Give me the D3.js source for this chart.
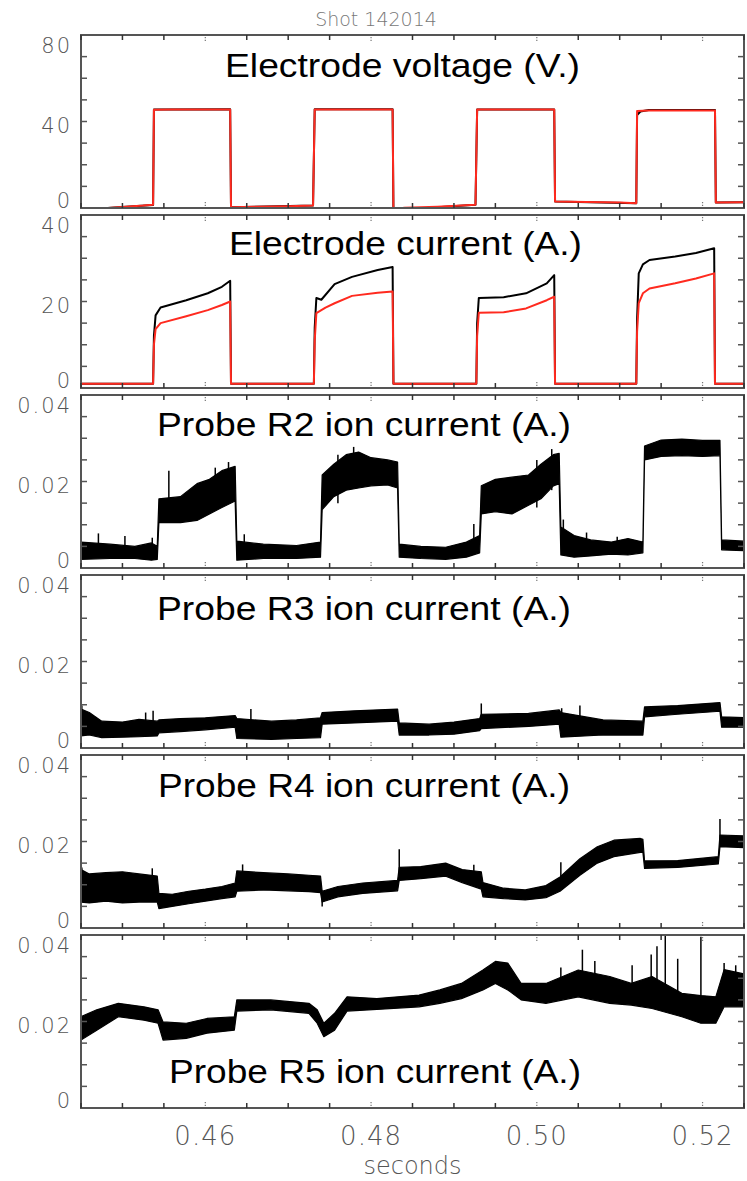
<!DOCTYPE html>
<html>
<head>
<meta charset="utf-8">
<script src="https://cdn.jsdelivr.net/npm/d3@7"></script>
<style>
  body { margin: 0; background: #fff; }
  text { font-family: "DejaVu Sans", sans-serif; }
</style>
</head>
<body>
<svg id="chart"></svg>
<script>

// DATA SEGMENT (time in seconds, values in V / A)

const xTickValues = [0.46, 0.48, 0.50, 0.52];
const xTickLabels = ["0.46", "0.48", "0.50", "0.52"];
const yLabelsVoltage = ["0", "40", "80"];
const yLabelsCurrent = ["0", "20", "40"];
const yLabelsProbe = ["0", "0.02", "0.04"];

const panelTitles = [
    "Electrode voltage (V.)",
    "Electrode current (A.)",
    "Probe R2 ion current (A.)",
    "Probe R3 ion current (A.)",
    "Probe R4 ion current (A.)",
    "Probe R5 ion current (A.)"
];

// [t, volts]
const voltageRed = [
    [0.4450, -0.8], [0.4470, -0.3], [0.4500, 0.5], [0.4525, 1.1], [0.4537, 1.5],
    [0.4538, 45.4], [0.4560, 45.6], [0.4630, 45.6], [0.4631, 0.3], [0.4660, 0.6],
    [0.4700, 0.8], [0.4730, 1.2], [0.4732, 45.6], [0.4826, 45.6], [0.4827, -1.0],
    [0.4840, 0.1], [0.4880, 0.6], [0.4926, 1.5], [0.4928, 45.5], [0.5021, 45.5],
    [0.5022, 3.0], [0.5060, 2.8], [0.5100, 2.5], [0.5120, 2.2], [0.5121, 44.8],
    [0.5135, 45.1], [0.5215, 45.1], [0.5216, 2.6], [0.5250, 2.7]
];
const voltageBlack = [
    [0.4450, -0.8], [0.4537, 1.4], [0.4538, 45.6], [0.4630, 45.7], [0.4631, 0.3],
    [0.4730, 1.2], [0.4732, 45.7], [0.4826, 45.7], [0.4827, -1.0], [0.4926, 1.5],
    [0.4928, 45.6], [0.5021, 45.6], [0.5022, 3.0], [0.5120, 2.2], [0.5121, 43.0],
    [0.5125, 44.6], [0.5135, 45.3], [0.5215, 45.3], [0.5216, 2.6], [0.5250, 2.7]
];

// [t, amps]
const currentBlack = [
    [0.4450, 1.0], [0.4537, 1.0], [0.4538, 12.0], [0.4540, 16.8], [0.4546, 18.6],
    [0.4577, 20.3], [0.4603, 21.9], [0.4620, 23.4], [0.4630, 24.8], [0.4631, 1.0],
    [0.4731, 1.0], [0.4732, 14.0], [0.4734, 20.8], [0.4740, 20.4], [0.4756, 24.0],
    [0.4777, 25.7], [0.4808, 27.3], [0.4826, 28.0], [0.4827, 1.0], [0.4927, 1.0],
    [0.4928, 15.0], [0.4930, 20.8], [0.4960, 21.0], [0.4987, 21.9], [0.5012, 24.2],
    [0.5021, 26.1], [0.5022, 1.0], [0.5120, 1.0], [0.5121, 16.0], [0.5123, 26.5],
    [0.5128, 28.6], [0.5136, 29.6], [0.5167, 30.4], [0.5192, 31.2], [0.5214, 32.3],
    [0.5215, 1.0], [0.5250, 1.0]
];
const currentRed = [
    [0.4450, 1.0], [0.4537, 1.0], [0.4538, 10.0], [0.4540, 13.6], [0.4546, 15.0],
    [0.4577, 16.6], [0.4603, 18.0], [0.4620, 19.2], [0.4630, 20.0], [0.4631, 1.0],
    [0.4731, 1.0], [0.4732, 11.0], [0.4734, 17.3], [0.4745, 18.6], [0.4756, 19.6],
    [0.4777, 21.3], [0.4808, 22.0], [0.4826, 22.3], [0.4827, 1.0], [0.4927, 1.0],
    [0.4928, 12.0], [0.4930, 17.4], [0.4960, 17.5], [0.4987, 18.4], [0.5012, 20.3],
    [0.5021, 21.1], [0.5022, 1.0], [0.5120, 1.0], [0.5121, 13.0], [0.5123, 19.6],
    [0.5128, 21.9], [0.5136, 23.0], [0.5167, 24.2], [0.5192, 25.3], [0.5214, 26.5],
    [0.5215, 1.0], [0.5250, 1.0]
];

// probe signals: noisy envelope [t, low, high] and isolated spikes [t, low, high], amps
const r2Band = [
    [0.4450, 0.0020, 0.0060], [0.4485, 0.0022, 0.0055], [0.4515, 0.0022, 0.0050],
    [0.4535, 0.0018, 0.0058], [0.4542, 0.0020, 0.0050], [0.4544, 0.0105, 0.0160],
    [0.4570, 0.0105, 0.0165], [0.4590, 0.0110, 0.0195], [0.4605, 0.0125, 0.0205],
    [0.4620, 0.0140, 0.0225], [0.4636, 0.0155, 0.0235], [0.4638, 0.0018, 0.0062],
    [0.4670, 0.0022, 0.0055], [0.4710, 0.0022, 0.0052], [0.4739, 0.0025, 0.0060],
    [0.4741, 0.0135, 0.0215], [0.4755, 0.0165, 0.0240], [0.4770, 0.0180, 0.0262],
    [0.4785, 0.0185, 0.0268], [0.4800, 0.0190, 0.0255], [0.4820, 0.0192, 0.0250],
    [0.4832, 0.0185, 0.0245], [0.4834, 0.0025, 0.0055], [0.4860, 0.0022, 0.0050],
    [0.4890, 0.0020, 0.0048], [0.4915, 0.0025, 0.0060], [0.4931, 0.0035, 0.0075],
    [0.4933, 0.0125, 0.0190], [0.4950, 0.0130, 0.0205], [0.4970, 0.0125, 0.0210],
    [0.4990, 0.0145, 0.0215], [0.5005, 0.0160, 0.0240], [0.5020, 0.0190, 0.0262],
    [0.5027, 0.0195, 0.0265], [0.5029, 0.0030, 0.0095], [0.5045, 0.0025, 0.0075],
    [0.5065, 0.0028, 0.0065], [0.5090, 0.0032, 0.0060], [0.5110, 0.0030, 0.0068],
    [0.5128, 0.0035, 0.0060], [0.5130, 0.0250, 0.0282], [0.5150, 0.0258, 0.0296],
    [0.5175, 0.0260, 0.0298], [0.5200, 0.0258, 0.0295], [0.5221, 0.0260, 0.0295],
    [0.5223, 0.0042, 0.0065], [0.5250, 0.0040, 0.0062]
];
const r2Spikes = [
    [0.4471, 0.0030, 0.0080], [0.4503, 0.0030, 0.0074], [0.4536, 0.0030, 0.0070],
    [0.4556, 0.0120, 0.0225], [0.4612, 0.0140, 0.0232], [0.4628, 0.0150, 0.0245],
    [0.4647, 0.0030, 0.0078], [0.4760, 0.0150, 0.0262], [0.4779, 0.0190, 0.0280],
    [0.4924, 0.0030, 0.0102], [0.5000, 0.0140, 0.0250], [0.5018, 0.0180, 0.0275],
    [0.5032, 0.0030, 0.0112], [0.5060, 0.0030, 0.0082], [0.5097, 0.0030, 0.0072]
];

const r3Band = [
    [0.4450, 0.0028, 0.0090], [0.4460, 0.0030, 0.0082], [0.4475, 0.0024, 0.0062],
    [0.4500, 0.0025, 0.0060], [0.4520, 0.0026, 0.0066], [0.4542, 0.0028, 0.0062],
    [0.4544, 0.0035, 0.0065], [0.4570, 0.0038, 0.0068], [0.4600, 0.0042, 0.0070],
    [0.4636, 0.0048, 0.0075], [0.4638, 0.0022, 0.0068], [0.4680, 0.0020, 0.0062],
    [0.4710, 0.0022, 0.0065], [0.4739, 0.0024, 0.0070], [0.4741, 0.0055, 0.0082],
    [0.4780, 0.0058, 0.0086], [0.4832, 0.0062, 0.0090], [0.4834, 0.0030, 0.0058],
    [0.4870, 0.0030, 0.0055], [0.4900, 0.0032, 0.0060], [0.4931, 0.0040, 0.0068],
    [0.4933, 0.0045, 0.0078], [0.4990, 0.0050, 0.0080], [0.5027, 0.0055, 0.0088],
    [0.5029, 0.0025, 0.0082], [0.5080, 0.0030, 0.0065], [0.5128, 0.0030, 0.0062],
    [0.5130, 0.0072, 0.0095], [0.5170, 0.0078, 0.0098], [0.5221, 0.0085, 0.0105],
    [0.5223, 0.0048, 0.0072], [0.5250, 0.0048, 0.0070]
];
const r3Spikes = [
    [0.4451, 0.0030, 0.0098], [0.4528, 0.0030, 0.0082], [0.4537, 0.0030, 0.0086],
    [0.4655, 0.0030, 0.0090], [0.4933, 0.0050, 0.0103], [0.5052, 0.0030, 0.0098],
    [0.5030, 0.0030, 0.0092]
];

const r4Band = [
    [0.4450, 0.0060, 0.0135], [0.4460, 0.0058, 0.0125], [0.4480, 0.0062, 0.0128],
    [0.4500, 0.0058, 0.0130], [0.4520, 0.0060, 0.0125], [0.4542, 0.0060, 0.0120],
    [0.4544, 0.0045, 0.0080], [0.4560, 0.0050, 0.0078], [0.4580, 0.0056, 0.0085],
    [0.4600, 0.0062, 0.0090], [0.4620, 0.0068, 0.0096], [0.4636, 0.0072, 0.0104],
    [0.4638, 0.0085, 0.0132], [0.4670, 0.0088, 0.0128], [0.4700, 0.0086, 0.0125],
    [0.4725, 0.0084, 0.0122], [0.4739, 0.0082, 0.0120], [0.4741, 0.0060, 0.0085],
    [0.4760, 0.0072, 0.0096], [0.4790, 0.0080, 0.0104], [0.4832, 0.0086, 0.0110],
    [0.4834, 0.0110, 0.0140], [0.4860, 0.0114, 0.0142], [0.4890, 0.0120, 0.0150],
    [0.4910, 0.0105, 0.0135], [0.4933, 0.0090, 0.0130], [0.4935, 0.0072, 0.0105],
    [0.4960, 0.0068, 0.0092], [0.4986, 0.0065, 0.0088], [0.5011, 0.0070, 0.0098],
    [0.5028, 0.0085, 0.0118], [0.5052, 0.0122, 0.0160], [0.5073, 0.0150, 0.0188],
    [0.5093, 0.0165, 0.0203], [0.5125, 0.0175, 0.0207], [0.5128, 0.0175, 0.0205],
    [0.5130, 0.0138, 0.0155], [0.5170, 0.0140, 0.0156], [0.5219, 0.0148, 0.0165],
    [0.5221, 0.0188, 0.0215], [0.5250, 0.0186, 0.0213]
];
const r4Spikes = [
    [0.4451, 0.0080, 0.0140], [0.4536, 0.0080, 0.0138], [0.4645, 0.0100, 0.0147],
    [0.4741, 0.0050, 0.0080], [0.4834, 0.0120, 0.0182], [0.4924, 0.0100, 0.0146],
    [0.5029, 0.0090, 0.0152], [0.5221, 0.0190, 0.0252]
];

const r5Band = [
    [0.4450, 0.0157, 0.0211], [0.4469, 0.0180, 0.0227], [0.4495, 0.0211, 0.0242],
    [0.4526, 0.0203, 0.0234], [0.4543, 0.0196, 0.0227], [0.4549, 0.0157, 0.0199],
    [0.4577, 0.0161, 0.0196], [0.4602, 0.0173, 0.0207], [0.4635, 0.0180, 0.0211],
    [0.4638, 0.0224, 0.0250], [0.4679, 0.0227, 0.0250], [0.4725, 0.0219, 0.0242],
    [0.4735, 0.0196, 0.0227], [0.4743, 0.0165, 0.0196], [0.4756, 0.0180, 0.0219],
    [0.4771, 0.0224, 0.0257], [0.4807, 0.0228, 0.0253], [0.4858, 0.0234, 0.0261],
    [0.4883, 0.0242, 0.0273], [0.4909, 0.0253, 0.0288], [0.4935, 0.0273, 0.0319],
    [0.4950, 0.0288, 0.0339], [0.4965, 0.0273, 0.0335], [0.4981, 0.0250, 0.0288],
    [0.5011, 0.0242, 0.0288], [0.5050, 0.0257, 0.0319], [0.5088, 0.0242, 0.0304],
    [0.5114, 0.0238, 0.0288], [0.5139, 0.0230, 0.0304], [0.5175, 0.0211, 0.0265],
    [0.5198, 0.0196, 0.0260], [0.5216, 0.0196, 0.0257], [0.5226, 0.0234, 0.0320],
    [0.5250, 0.0234, 0.0310]
];
const r5Spikes = [
    [0.5029, 0.0260, 0.0325], [0.5055, 0.0270, 0.0366], [0.5070, 0.0260, 0.0340],
    [0.5115, 0.0260, 0.0330], [0.5138, 0.0260, 0.0355], [0.5145, 0.0260, 0.0374],
    [0.5155, 0.0250, 0.0400], [0.5170, 0.0240, 0.0345], [0.5198, 0.0220, 0.0396],
    [0.5226, 0.0260, 0.0335], [0.5240, 0.0260, 0.0330]
];

// LAYOUT

const W = 747, H = 1181;
const LEFT = 81, RIGHT = 744;
const TOP0 = 35, PANEL_H = 173, PANEL_STEP = 180;
const AXIS_GREY = "#555";
const RED = "#ff2a1f";

// title position per panel: [x start, x end, baseline offset from panel top]
const titleBox = [[225, 580, 42], [229, 582, 40], [157, 571, 41], [157, 571, 45], [158, 570, 42], [169, 581, 148]];

const panels = [
    { yMax: 80, yStep: 10, labels: yLabelsVoltage, lines: [[voltageBlack, "#000"], [voltageRed, RED]] },
    { yMax: 40, yStep: 5, labels: yLabelsCurrent, lines: [[currentBlack, "#000"], [currentRed, RED]] },
    { yMax: 0.04, yStep: 0.005, labels: yLabelsProbe, band: r2Band, spikes: r2Spikes },
    { yMax: 0.04, yStep: 0.005, labels: yLabelsProbe, band: r3Band, spikes: r3Spikes },
    { yMax: 0.04, yStep: 0.005, labels: yLabelsProbe, band: r4Band, spikes: r4Spikes },
    { yMax: 0.04, yStep: 0.005, labels: yLabelsProbe, band: r5Band, spikes: r5Spikes }
];

const x = d3.scaleLinear().domain([0.445, 0.525]).range([LEFT, RIGHT]);
const minorTicks = d3.range(0, 17).map(i => +(0.445 + i * 0.005).toFixed(3))
    .filter(t => !xTickValues.some(v => Math.abs(v - t) < 1e-6));

const svg = d3.select("#chart").attr("width", W).attr("height", H);

svg.append("text")
    .attr("x", 376).attr("y", 26)
    .attr("text-anchor", "middle")
    .attr("font-size", 19)
    .attr("font-weight", 300)
    .attr("fill", "#777")
    .text("Shot 142014");

panels.forEach((p, i) => {
    const top = TOP0 + i * PANEL_STEP;
    const bottom = top + PANEL_H;
    const y = d3.scaleLinear().domain([0, p.yMax]).range([bottom, top]);
    const g = svg.append("g");

    g.append("clipPath").attr("id", "clip" + i)
        .append("rect").attr("x", LEFT).attr("y", top).attr("width", RIGHT - LEFT).attr("height", PANEL_H);

    const plot = g.append("g").attr("clip-path", `url(#clip${i})`);

    if (p.lines) {
        const line = d3.line().x(d => x(d[0])).y(d => y(d[1]));
        p.lines.forEach(([data, colour]) => {
            plot.append("path")
                .datum(data)
                .attr("d", line)
                .attr("fill", "none")
                .attr("stroke", colour)
                .attr("stroke-width", 2)
                .attr("stroke-linejoin", "round");
        });
    }

    if (p.band) {
        const area = d3.area().x(d => x(d[0])).y0(d => y(d[1])).y1(d => y(d[2]));
        plot.append("path")
            .datum(p.band)
            .attr("d", area)
            .attr("fill", "#000")
            .attr("stroke", "#000")
            .attr("stroke-width", 1.2)
            .attr("stroke-linejoin", "round");
        plot.selectAll("line.spike")
            .data(p.spikes)
            .join("line")
            .attr("class", "spike")
            .attr("x1", d => x(d[0])).attr("x2", d => x(d[0]))
            .attr("y1", d => y(d[1])).attr("y2", d => y(d[2]))
            .attr("stroke", "#000")
            .attr("stroke-width", 1.5);
    }

    // frame
    g.append("rect")
        .attr("x", LEFT).attr("y", top)
        .attr("width", RIGHT - LEFT).attr("height", PANEL_H)
        .attr("fill", "none")
        .attr("stroke", AXIS_GREY)
        .attr("stroke-width", 2);

    // y ticks, both sides
    const yTicks = d3.range(1, Math.round(p.yMax / p.yStep)).map(k => k * p.yStep);
    g.selectAll("line.ytl").data(yTicks).join("line")
        .attr("x1", LEFT).attr("x2", LEFT + 6)
        .attr("y1", d => y(d)).attr("y2", d => y(d))
        .attr("stroke", AXIS_GREY).attr("stroke-width", 1.5);
    g.selectAll("line.ytr").data(yTicks).join("line")
        .attr("x1", RIGHT - 6).attr("x2", RIGHT)
        .attr("y1", d => y(d)).attr("y2", d => y(d))
        .attr("stroke", AXIS_GREY).attr("stroke-width", 1.5);

    // x ticks, top and bottom
    [top, bottom].forEach((yy, k) => {
        const dir = k === 0 ? 1 : -1;
        g.selectAll(null).data(minorTicks).join("line")
            .attr("x1", d => x(d)).attr("x2", d => x(d))
            .attr("y1", yy).attr("y2", yy + dir * 5)
            .attr("stroke", "#333").attr("stroke-width", 1.5);
        g.selectAll(null).data(xTickValues).join("line")
            .attr("x1", d => x(d)).attr("x2", d => x(d))
            .attr("y1", yy + dir * 2).attr("y2", yy + dir * 6)
            .attr("stroke", "#777").attr("stroke-width", 1.2)
            .attr("stroke-dasharray", "1.2,1.6");
    });

    // y labels: bottom, middle, top
    const labelY = [bottom, (top + bottom) / 2 + 11, top + 18];
    p.labels.forEach((lab, k) => {
        g.append("text")
            .attr("x", 72).attr("y", labelY[k])
            .attr("text-anchor", "end")
            .attr("font-size", 21)
            .attr("font-weight", 300)
            .attr("letter-spacing", 2)
            .attr("fill", AXIS_GREY)
            .text(lab);
    });

    // panel title
    const [tx0, tx1, tb] = titleBox[i];
    g.append("text")
        .attr("x", tx0).attr("y", top + tb)
        .attr("textLength", tx1 - tx0)
        .attr("lengthAdjust", "spacingAndGlyphs")
        .style("font-family", "'Liberation Sans', Arial, sans-serif")
        .attr("font-size", 34)
        .attr("fill", "#000")
        .text(panelTitles[i]);
});

// bottom x labels
const lastBottom = TOP0 + 5 * PANEL_STEP + PANEL_H;
svg.selectAll("text.xl").data(xTickValues).join("text")
    .attr("class", "xl")
    .attr("x", d => x(d)).attr("y", lastBottom + 37)
    .attr("text-anchor", "middle")
    .attr("font-size", 26)
    .attr("font-weight", 300)
    .attr("letter-spacing", 1)
    .attr("fill", AXIS_GREY)
    .text((d, k) => xTickLabels[k]);

svg.append("text")
    .attr("x", (LEFT + RIGHT) / 2).attr("y", lastBottom + 66)
    .attr("text-anchor", "middle")
    .attr("font-size", 24)
    .attr("font-weight", 300)
    .attr("fill", AXIS_GREY)
    .text("seconds");

</script>
</body>
</html>
